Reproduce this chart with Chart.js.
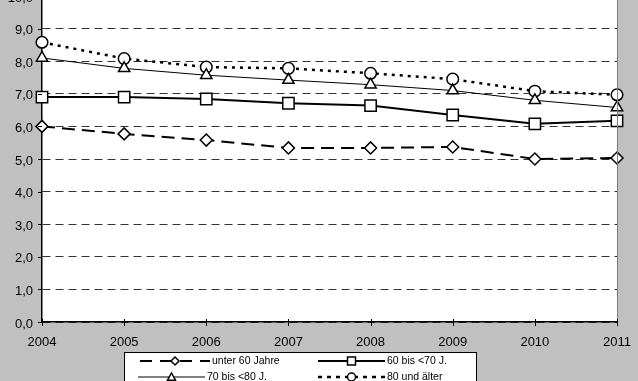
<!DOCTYPE html>
<html>
<head>
<meta charset="utf-8">
<script src="https://cdn.jsdelivr.net/npm/chart.js@4/dist/chart.umd.min.js"></script>
<style>
  html, body { margin: 0; padding: 0; background: #c0c0c0; }
  #wrap { position: relative; width: 638px; height: 381px; overflow: hidden; background: #c0c0c0; }
  #c { position: absolute; left: 0; top: -14px; }
</style>
</head>
<body>
<div id="wrap"><canvas id="c" width="638" height="395"></canvas></div>
<script>
// ---- data ----
const years = ['2004', '2005', '2006', '2007', '2008', '2009', '2010', '2011'];
const seriesNames = ['unter 60 Jahre', '60 bis <70 J.', '70 bis <80 J.', '80 und älter'];
const under60 = [6.0, 5.77, 5.58, 5.34, 5.34, 5.37, 5.0, 5.03];
const age60to70 = [6.9, 6.9, 6.84, 6.71, 6.64, 6.35, 6.08, 6.17];
const age70to80 = [8.1, 7.78, 7.57, 7.42, 7.28, 7.1, 6.8, 6.58];
const age80plus = [8.58, 8.08, 7.82, 7.78, 7.63, 7.45, 7.08, 6.97];
const yTicks = [0, 1, 2, 3, 4, 5, 6, 7, 8, 9, 10];

const OFF = 14; // canvas shifted up by this much
const FONT = '"Liberation Sans", Arial, sans-serif';

function mk(label, data, style, dash, width, radius) {
  return {
    label, data,
    borderColor: '#000', backgroundColor: '#fff',
    borderWidth: width, borderDash: dash,
    pointStyle: style, pointRadius: radius, pointHoverRadius: radius,
    pointBackgroundColor: '#fff', pointBorderColor: '#000', pointBorderWidth: 1.5,
    tension: 0, fill: false
  };
}

function drawMarker(ctx, style, x, y, r) {
  ctx.beginPath();
  if (style === 'circle') {
    ctx.arc(x, y, r, 0, Math.PI * 2);
  } else if (style === 'rect') {
    ctx.rect(x - r, y - r, 2 * r, 2 * r);
  } else if (style === 'rectRot') {
    ctx.moveTo(x, y - r); ctx.lineTo(x + r, y); ctx.lineTo(x, y + r); ctx.lineTo(x - r, y);
    ctx.closePath();
  } else if (style === 'triangle') {
    ctx.moveTo(x, y - r); ctx.lineTo(x + r, y + r * 0.8); ctx.lineTo(x - r, y + r * 0.8);
    ctx.closePath();
  }
  ctx.fill(); ctx.stroke();
}

const bgPlugin = {
  id: 'bg',
  beforeDraw(chart) {
    const { ctx, chartArea: a } = chart;
    ctx.save();
    ctx.fillStyle = '#c0c0c0';
    ctx.fillRect(0, 0, chart.width, chart.height);
    ctx.fillStyle = '#fff';
    ctx.fillRect(a.left, a.top, a.right - a.left, a.bottom - a.top);
    ctx.restore();
  },
  afterDraw(chart) {
    const { ctx, chartArea: a } = chart;
    const xs = chart.scales.x;
    const ys = chart.scales.y;
    ctx.save();
    // right plot border
    ctx.strokeStyle = '#808080';
    ctx.lineWidth = 1;
    ctx.beginPath();
    ctx.moveTo(a.right + 0.5, a.top); ctx.lineTo(a.right + 0.5, a.bottom + 1);
    ctx.stroke();
    // x tick marks crossing the axis
    ctx.strokeStyle = '#000';
    ctx.lineWidth = 1;
    years.forEach((y, i) => {
      const px = Math.round(xs.getPixelForValue(i)) + 0.5;
      ctx.beginPath();
      ctx.moveTo(px, a.bottom - 3); ctx.lineTo(px, a.bottom + 4);
      ctx.stroke();
    });
    // y tick marks (outside)
    yTicks.forEach(v => {
      const py = Math.round(ys.getPixelForValue(v)) + 0.5;
      ctx.beginPath();
      ctx.moveTo(a.left - 4, py); ctx.lineTo(a.left, py);
      ctx.stroke();
    });
    // legend box
    ctx.fillStyle = '#fff';
    ctx.fillRect(124.5, 352.5 + OFF, 352, 40);
    ctx.strokeStyle = '#000';
    ctx.lineWidth = 1;
    ctx.strokeRect(124.5, 352.5 + OFF, 352, 40);
    const items = [
      { ds: 0, x1: 140, x2: 210, tx: 212, y: 361, dash: [12, 8], r: 4 },
      { ds: 1, x1: 318, x2: 385, tx: 387, y: 361, dash: [], r: 4 },
      { ds: 2, x1: 138, x2: 205, tx: 207, y: 377, dash: [], r: 4 },
      { ds: 3, x1: 318, x2: 385, tx: 387, y: 377, dash: [4, 5], r: 4 }
    ];
    items.forEach(it => {
      const ds = chart.data.datasets[it.ds];
      const yy = it.y + OFF;
      ctx.setLineDash(it.dash);
      ctx.lineWidth = ds.borderWidth;
      ctx.strokeStyle = '#000';
      ctx.beginPath(); ctx.moveTo(it.x1, yy); ctx.lineTo(it.x2, yy); ctx.stroke();
      ctx.setLineDash([]);
      ctx.lineWidth = 1.5;
      ctx.fillStyle = '#fff';
      drawMarker(ctx, ds.pointStyle, (it.x1 + it.x2) / 2, yy, it.r);
      ctx.fillStyle = '#000';
      ctx.font = '10.5px ' + FONT;
      ctx.textBaseline = 'middle';
      ctx.textAlign = 'left';
      ctx.fillText(ds.label, it.tx, yy);
    });
    ctx.restore();
  }
};

const pad = { top: 10, right: 21, left: 0, bottom: 0 };

const chart = new Chart(document.getElementById('c'), {
  type: 'line',
  data: {
    labels: years,
    datasets: [
      mk(seriesNames[0], under60, 'rectRot', [13, 7], 2, 6),
      mk(seriesNames[1], age60to70, 'rect', [], 2, 8),
      mk(seriesNames[2], age70to80, 'triangle', [], 1, 6.5),
      mk(seriesNames[3], age80plus, 'circle', [3, 5], 2.5, 5.8)
    ]
  },
  options: {
    responsive: false,
    animation: false,
    devicePixelRatio: 1,
    layout: { padding: pad },
    plugins: { legend: { display: false }, tooltip: { enabled: false } },
    scales: {
      x: {
        type: 'category',
        offset: false,
        grid: { drawOnChartArea: false, drawTicks: true, tickLength: 13, tickColor: 'rgba(0,0,0,0)' },
        border: { color: '#000', width: 1.5 },
        ticks: { color: '#000', font: { family: FONT, size: 13 }, padding: 0, maxRotation: 0, autoSkip: false },
        afterFit(s) { s.height = 395 - 336; }
      },
      y: {
        min: 0, max: 10,
        afterBuildTicks(s) { s.ticks = yTicks.map(v => ({ value: v })); },
        grid: { color: '#333', lineWidth: 1, drawTicks: true, tickLength: 9, tickColor: 'rgba(0,0,0,0)' },
        border: { color: '#000', width: 1.5, dash: [8, 5] },
        ticks: {
          color: '#000', font: { family: FONT, size: 13 }, padding: 0, labelOffset: 2,
          callback: v => Number(v).toFixed(1).replace('.', ',')
        },
        afterFit(s) { s.width = 42; }
      }
    }
  },
  plugins: [bgPlugin]
});

// correct layout so that the plot area lands exactly where the reference has it
for (let k = 0; k < 3; k++) {
  const a = chart.chartArea;
  const dTop = (OFF - 4) - a.top;
  const dRight = a.right - 617;
  if (Math.abs(dTop) < 0.5 && Math.abs(dRight) < 0.5) break;
  pad.top += dTop;
  pad.right += dRight;
  chart.config.options.layout.padding = Object.assign({}, pad);
  chart.update();
}
</script>
</body>
</html>
